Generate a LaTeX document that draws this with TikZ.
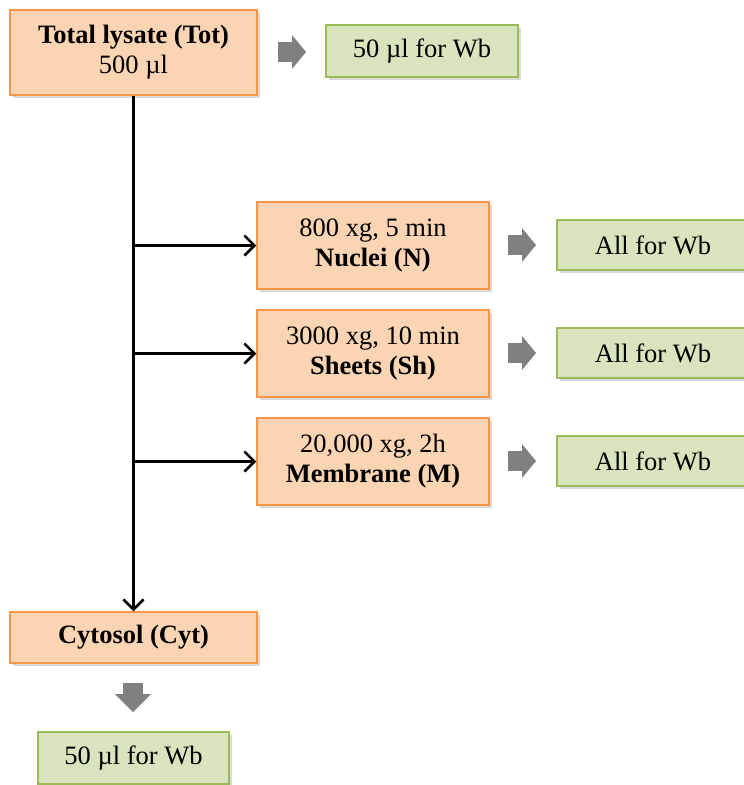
\documentclass[tikz,border=0pt]{standalone}
\usepackage{fontspec}
\setmainfont{Liberation Serif}
\usetikzlibrary{shadows,arrows.meta}
\definecolor{orfill}{HTML}{FBD4B4}
\definecolor{ordraw}{HTML}{F79646}
\definecolor{grfill}{HTML}{D7E4BD}
\definecolor{grdraw}{HTML}{9BBB59}
\definecolor{garrow}{HTML}{808080}
\tikzset{
  boxbase/.style={line width=1.5pt,inner sep=0pt,align=center,
    font=\fontsize{26.5}{30}\selectfont,
    drop shadow={shadow xshift=3pt,shadow yshift=-3pt,opacity=0.3}},
  obox/.style={boxbase,draw=ordraw,fill=orfill},
  gbox/.style={boxbase,draw=grdraw,fill=grfill},
  conn/.style={line width=2.5pt,-{Straight Barb[length=10pt,width=20pt]}},
  rarrow/.pic={\fill[garrow] (-14,-10) rectangle (1,10);
               \fill[garrow] (0,-17) -- (14,0) -- (0,17) -- cycle;},
  darrow/.pic={\fill[garrow] (-10,-15) rectangle (10,-3);
               \fill[garrow] (-18,-4) -- (0,14) -- (18,-4) -- cycle;}
}
\begin{document}
\begin{tikzpicture}[x=1pt,y=-1pt]
\useasboundingbox (0,0) rectangle (744,785);
\node[obox,minimum width=247pt,minimum height=85pt] (Tot) at (133.5,52.5)
  {\textbf{Total lysate (Tot)}\\500 µl};
\node[gbox,minimum width=192pt,minimum height=52pt] (WbT) at (422,51) {50 µl for Wb};
\node[obox,minimum width=232pt,minimum height=87pt] (N) at (373,245.5)
  {800 xg, 5 min\\\textbf{Nuclei (N)}};
\node[obox,minimum width=232pt,minimum height=87pt] (Sh) at (373,353.5)
  {3000 xg, 10 min\\\textbf{Sheets (Sh)}};
\node[obox,minimum width=232pt,minimum height=87pt] (M) at (373,461.5)
  {20,000 xg, 2h\\\textbf{Membrane (M)}};
\node[gbox,minimum width=192pt,minimum height=50pt] (WbN) at (653,245) {All for Wb};
\node[gbox,minimum width=192pt,minimum height=50pt] (WbS) at (653,353) {All for Wb};
\node[gbox,minimum width=192pt,minimum height=50pt] (WbM) at (653,461) {All for Wb};
\node[obox,minimum width=247pt,minimum height=51pt] (Cyt) at (133.5,637.5)
  {\textbf{Cytosol (Cyt)}};
\node[gbox,minimum width=191pt,minimum height=52pt] (WbC) at (133.5,758) {50 µl for Wb};
\pic at (292,52) {rarrow};
\pic at (522,245) {rarrow};
\pic at (522,353) {rarrow};
\pic at (522,461) {rarrow};
\pic at (133,698) {darrow};
\draw[conn] (Tot.south) -- (Cyt.north);
\draw[conn] (Tot.south |- N.west) -- (N.west);
\draw[conn] (Tot.south |- Sh.west) -- (Sh.west);
\draw[conn] (Tot.south |- M.west) -- (M.west);
\end{tikzpicture}
\end{document}
